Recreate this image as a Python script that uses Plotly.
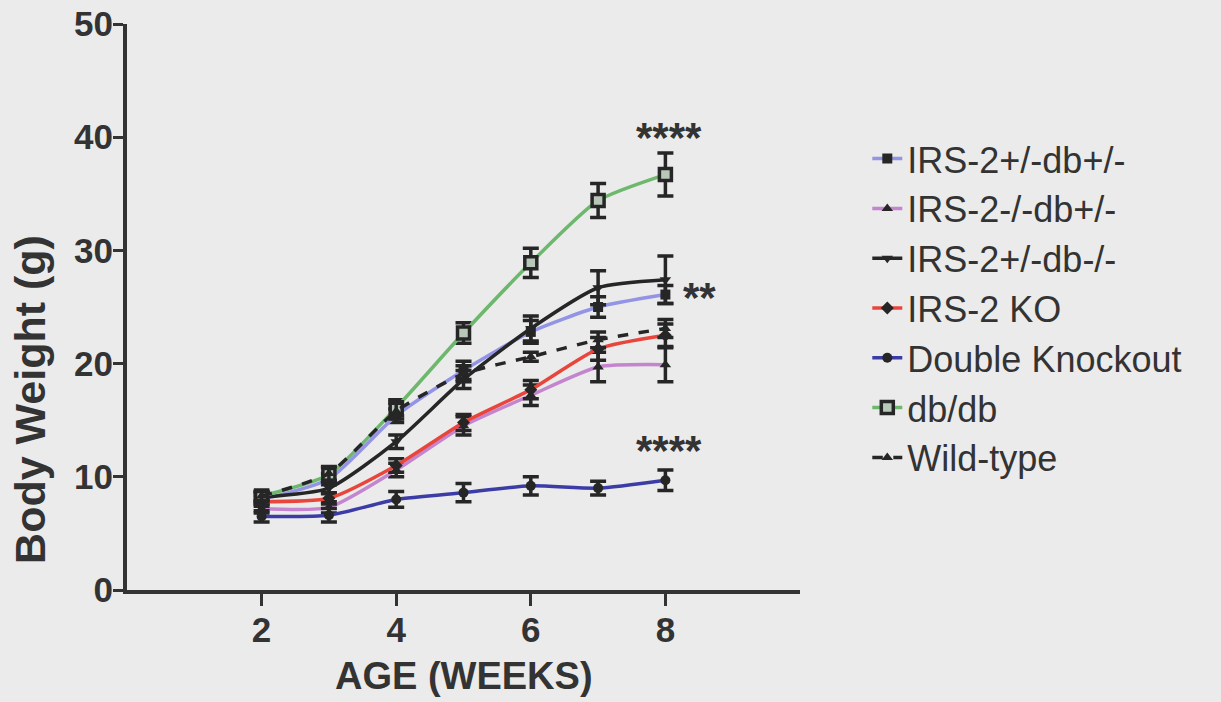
import plotly.graph_objects as go

weeks = [2, 3, 4, 5, 6, 7, 8]

names = ["IRS-2+/-db+/-", "IRS-2-/-db+/-", "IRS-2+/-db-/-", "IRS-2 KO",
         "Double Knockout", "db/db", "Wild-type"]

irs2het_dbhet = [8.0, 9.8, 15.4, 19.4, 22.8, 25.0, 26.1]
irs2ko_dbhet = [7.2, 7.3, 10.6, 14.5, 17.2, 19.7, 19.9]
irs2het_dbko = [8.2, 9.0, 13.1, 18.6, 23.1, 26.7, 27.4]
irs2ko = [7.8, 8.1, 11.0, 14.8, 17.7, 21.3, 22.5]
double_ko = [6.5, 6.6, 8.0, 8.6, 9.2, 9.0, 9.7]
db_db = [8.3, 10.2, 16.1, 22.7, 28.9, 34.4, 36.7]
wild_type = [8.3, 10.3, 15.8, 19.1, 20.6, 22.1, 23.1]

err_irs2het_dbhet = [0.4, 0.5, 0.6, 0.8, 1.0, 0.9, 0.8]
err_irs2ko_dbhet = [0.4, 0.5, 0.6, 0.8, 0.9, 1.3, 1.5]
err_irs2het_dbko = [0.4, 0.5, 0.6, 0.8, 1.1, 1.5, 2.1]
err_irs2ko = [0.4, 0.5, 0.6, 0.7, 0.8, 1.0, 1.0]
err_double_ko = [0.5, 0.6, 0.7, 0.8, 0.8, 0.6, 0.9]
err_db_db = [0.4, 0.6, 0.7, 0.9, 1.3, 1.5, 1.9]
err_wild_type = [0.4, 0.6, 0.7, 0.7, 0.4, 0.7, 0.8]

series = [irs2het_dbhet, irs2ko_dbhet, irs2het_dbko, irs2ko, double_ko, db_db, wild_type]
errors = [err_irs2het_dbhet, err_irs2ko_dbhet, err_irs2het_dbko, err_irs2ko,
          err_double_ko, err_db_db, err_wild_type]
colors = ["#9494e6", "#c485cf", "#262626", "#e8463c", "#3c3ca6", "#6db86d", "#262626"]
symbols = ["square", "triangle-up", "triangle-down", "diamond", "circle", "square", "triangle-up"]
dashes = ["solid"] * 6 + ["dash"]

annot_x = [8.05, 8.5, 8.05]
annot_y = [40.0, 25.8, 12.3]
annot_text = ["****", "**", "****"]

FONT = "Liberation Sans, Arial, sans-serif"

fig = go.Figure()
for i, (nm, ys, es) in enumerate(zip(names, series, errors)):
    is_db = nm == "db/db"
    fig.add_trace(go.Scatter(
        x=weeks, y=ys, name=nm, mode="lines+markers",
        legendgroup=nm,
        line=dict(color=colors[i], width=3.5, shape="spline", smoothing=0.6, dash=dashes[i]),
        marker=dict(symbol=symbols[i], size=12 if is_db else 10,
                    color="#b8c8b8" if is_db else "#262626",
                    line=dict(color="#262626", width=3.5 if is_db else 0)),
        error_y=dict(type="data", array=es, visible=True, color="#262626",
                     thickness=3.5, width=8),
    ))

for ax, ay, at in zip(annot_x, annot_y, annot_text):
    fig.add_annotation(x=ax, y=ay, text=at, showarrow=False, xref="x", yref="y",
                       font=dict(family=FONT, size=42, color="#333333", weight="bold"))

# axis titles
fig.add_annotation(x=-0.144, y=0.336, xref="paper", yref="paper", text="Body Weight (g)",
                   textangle=-90, showarrow=False, xanchor="center", yanchor="middle",
                   font=dict(family=FONT, size=43, weight="bold", color="#333333"))
fig.add_annotation(x=0.5, y=-0.152, xref="paper", yref="paper", text="AGE (WEEKS)",
                   showarrow=False, xanchor="center", yanchor="middle",
                   font=dict(family=FONT, size=38, weight="bold", color="#333333"))

fig.update_layout(
    width=1221, height=702,
    margin=dict(l=127, r=421, t=24, b=112),
    paper_bgcolor="#ebebeb", plot_bgcolor="#ebebeb",
    font=dict(family=FONT, color="#333333"),
    showlegend=True,
    legend=dict(x=1.10, y=0.815, xanchor="left", yanchor="top",
                font=dict(family=FONT, size=36, color="#333333"),
                traceorder="grouped", tracegroupgap=0,
                bgcolor="rgba(0,0,0,0)"),
)
fig.update_xaxes(range=[0, 10], tickvals=[2, 4, 6, 8], showgrid=False, zeroline=False,
                 automargin=False,
                 showline=True, linecolor="#333333", linewidth=4,
                 ticks="outside", ticklen=12, tickwidth=3, tickcolor="#333333",
                 ticklabelstandoff=-6,
                 tickfont=dict(family=FONT, size=35, weight="bold", color="#333333"))
fig.update_yaxes(range=[0, 50], tickvals=[0, 10, 20, 30, 40, 50], showgrid=False, zeroline=False,
                 automargin=False,
                 showline=True, linecolor="#333333", linewidth=4,
                 ticks="outside", ticklen=10, tickwidth=3, tickcolor="#333333",
                 ticklabelstandoff=-7,
                 tickfont=dict(family=FONT, size=35, weight="bold", color="#333333"))

fig.write_html("out.html")
